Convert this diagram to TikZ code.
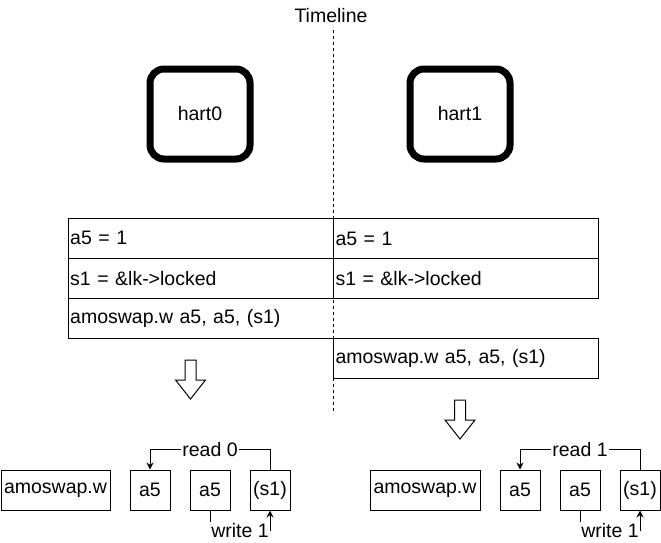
\documentclass[tikz,border=0pt]{standalone}
\usepackage{fontspec}
\setmainfont{Liberation Sans}
\usetikzlibrary{arrows.meta}
\newcommand{\fsz}{\fontsize{19.5}{23}\selectfont}
\tikzset{
  hartbox/.style={draw, line width=7pt, rounded corners=14pt, minimum width=100pt, minimum height=90pt, inner sep=0pt, font=\fsz},
  rowcell/.style={minimum width=265pt, minimum height=40pt, text width=261pt, align=left, inner sep=2pt, anchor=north west, font=\fsz},
  smallbox/.style={draw, line width=1pt, minimum height=40pt, minimum width=40pt, inner sep=0pt, font=\fsz},
  wirelabel/.style={fill=white, inner sep=1pt, font=\fsz},
  wire/.style={line width=1pt, -{Stealth[length=7pt,width=7pt]}},
  tline/.style={line width=1pt, dash pattern=on 3pt off 3pt},
  downarrow/.pic={\draw[line width=1pt, fill=white, line join=miter] (-5.5,0) -- (5.5,0) -- (5.5,20) -- (15,20) -- (0,39) -- (-15,20) -- (-5.5,20) -- cycle;}
}
\begin{document}
\begin{tikzpicture}[x=1pt,y=-1pt]
\useasboundingbox (0,0) rectangle (661,542);
% timeline
\node[font=\fsz] (timeline) at (331,16) {Timeline};
\coordinate (tl0) at (333,30);
\coordinate (tl1) at (333,411);
\draw[tline] (tl0) -- (tl1);
% harts
\node[hartbox] (hart0) at (200,114) {hart0};
\node[hartbox] (hart1) at (460,114) {hart1};
% left table
\node[rowcell] (L1) at (68,218) {a5 = 1};
\node[rowcell] (L2) at (68,258) {s1 = \&lk->locked};
\node[rowcell] (L3) at (68,298) {amoswap.w a5, a5, (s1)};
\draw[line width=1pt] (L1.north east) -- (L1.north west) -- (L3.south west) -- (L3.south east);
\draw[line width=1pt] (L1.south west) -- (L1.south east);
\draw[line width=1pt] (L2.south west) -- (L2.south east);
% right table
\node[rowcell, draw, line width=1pt] (R1) at (333,218) {a5 = 1};
\node[rowcell, draw, line width=1pt] (R2) at (333,258) {s1 = \&lk->locked};
\node[rowcell, draw, line width=1pt] (R3) at (333,338) {amoswap.w a5, a5, (s1)};
% block arrows
\pic at (190.5,360) {downarrow};
\pic at (460,400) {downarrow};
% bottom left
\node[smallbox, minimum width=109pt] (amoL) at (55.5,490) {amoswap.w};
\node[smallbox] (a5L) at (150,490) {a5};
\node[smallbox] (a5bL) at (210,490) {a5};
\node[smallbox] (s1L) at (270,490) {(s1)};
\draw[wire] (s1L.north) -- ++(0,-20) -| node[wirelabel, pos=0.25] {read 0} (a5L.north);
\draw[wire] (a5bL.south) -- ++(0,20) -| node[wirelabel, pos=0.25] {write 1} (s1L.south);
% bottom right
\node[smallbox, minimum width=110pt] (amoR) at (425,490) {amoswap.w};
\node[smallbox] (a5R) at (520,490) {a5};
\node[smallbox] (a5bR) at (580,490) {a5};
\node[smallbox] (s1R) at (640,490) {(s1)};
\draw[wire] (s1R.north) -- ++(0,-20) -| node[wirelabel, pos=0.25] {read 1} (a5R.north);
\draw[wire] (a5bR.south) -- ++(0,20) -| node[wirelabel, pos=0.25] {write 1} (s1R.south);
\end{tikzpicture}
\end{document}
